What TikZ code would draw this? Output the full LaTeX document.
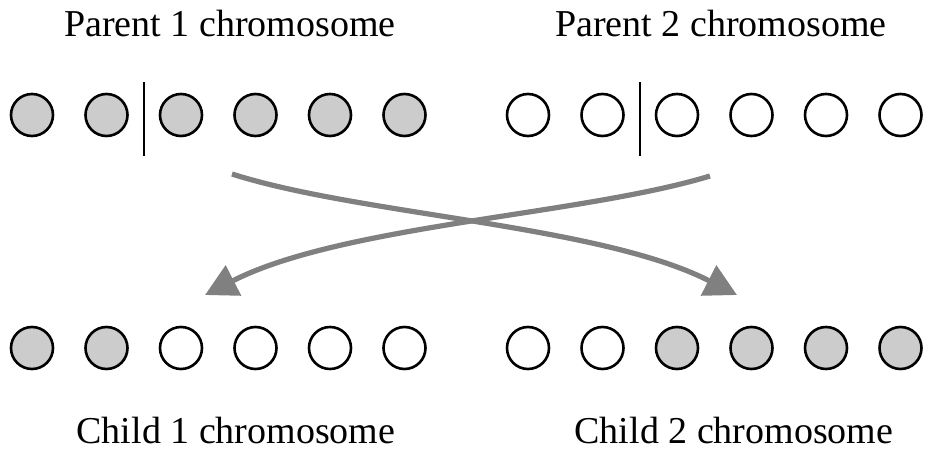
\documentclass[tikz,border=0pt]{standalone}
\usepackage{fontspec}
\setmainfont{Liberation Serif}
\usepackage{xcolor}
\usetikzlibrary{arrows.meta,calc}

\definecolor{genegray}{gray}{0.8}
\definecolor{arrowgray}{gray}{0.5}

\begin{document}
\begin{tikzpicture}[
  x=0.5pt, y=-0.5pt,
  font=\fontsize{19}{21}\selectfont,
  gene/.style={
    circle, draw=black, line width=1.3pt,
    minimum size=21pt, inner sep=0pt
  },
  full/.style={gene, fill=genegray},
  empty/.style={gene, fill=white},
  cut/.style={line width=1.2pt, draw=black},
  swap/.style={-{Triangle[length=16pt,width=16.5pt]}, line width=2.6pt, draw=arrowgray},
  lbl/.style={anchor=base, inner sep=0pt}
]
\useasboundingbox (0,0) rectangle (926,449);

% parents
\foreach \i in {1,...,6} {
  \node[full]  (p1-\i) at ({32+74.5*(\i-1)},115) {};
  \node[empty] (p2-\i) at ({528+74.5*(\i-1)},115) {};
}

% children
\foreach \i in {1,2} {
  \node[full]  (c1-\i) at ({32+74.5*(\i-1)},348) {};
  \node[empty] (c2-\i) at ({528+74.5*(\i-1)},348) {};
}
\foreach \i in {3,...,6} {
  \node[empty] (c1-\i) at ({32+74.5*(\i-1)},348) {};
  \node[full]  (c2-\i) at ({528+74.5*(\i-1)},348) {};
}

% crossover points
\draw[cut] ($(p1-2)!.5!(p1-3)$) ++(0,-33) -- ++(0,74);
\draw[cut] ($(p2-2)!.5!(p2-3)$) ++(0,-33) -- ++(0,74);

\node[lbl] (par1) at (230,37) {Parent 1 chromosome};
\node[lbl] (par2) at (721,37) {Parent 2 chromosome};
\node[lbl] (chi1) at (236,443) {Child 1 chromosome};
\node[lbl] (chi2) at (734,443) {Child 2 chromosome};

\coordinate (from1) at (232,174);
\coordinate (to1)   at (737,295);
\coordinate (from2) at (710,176);
\coordinate (to2)   at (205,295);

\draw[swap] (from1) .. controls (360,215) and (600,225) .. (to1);
\draw[swap] (from2) .. controls (582,215) and (342,225) .. (to2);

\end{tikzpicture}
\end{document}
